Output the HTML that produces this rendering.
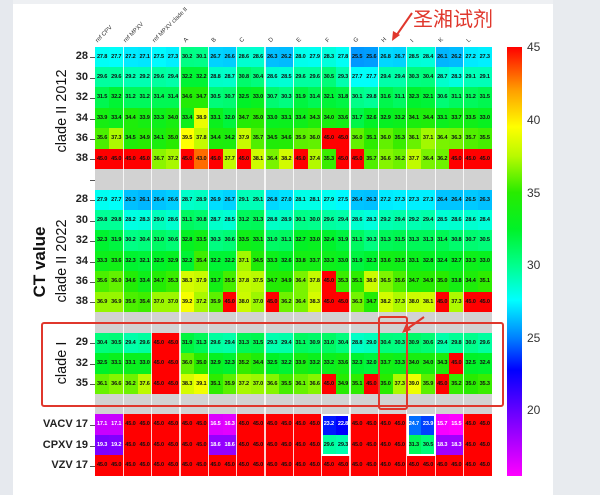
<!DOCTYPE html>
<html><head><meta charset="utf-8">
<style>
*{margin:0;padding:0;box-sizing:border-box}
body{width:600px;height:495px;overflow:hidden;background:#fff;font-family:"Liberation Sans","Noto Sans CJK SC",sans-serif;position:relative}
#ls{position:absolute;left:0;top:0;width:13px;height:495px;background:#e6e9ee}
#rs{position:absolute;left:553px;top:0;width:47px;height:495px;background:#e8ebef}
#tb{position:absolute;left:13px;top:0;width:540px;height:4px;background:#eef0f3}
#grid{position:absolute;left:95px;top:46.5px;width:397px}
.r{height:20.45px;display:flex}
.r i{font-style:normal;width:14.18px;flex:none;height:100%;line-height:20.45px;text-align:center;font-size:5.6px;font-weight:bold;color:#111;letter-spacing:-0.15px}
.g{height:20.45px;background:#d2d2d2}
.sep{position:absolute;top:46.5px;height:429.5px;width:1.4px;background:rgba(255,255,255,.8)}
.yl{position:absolute;width:40px;text-align:right;font-size:11px;font-weight:bold;color:#222;left:48px}
.tk{position:absolute;left:90px;width:5px;height:1px;background:#555}
.cl{position:absolute;font-size:6px;color:#333;transform-origin:0 100%;transform:rotate(-45deg);white-space:nowrap;line-height:6px}
.ax{position:absolute;transform:translate(-50%,-50%) rotate(-90deg);white-space:nowrap;color:#111}
#cb{position:absolute;left:507px;top:46.5px;width:15px;height:429.5px}
.cbl{position:absolute;left:527px;font-size:12px;color:#333}
.wb{position:absolute;border:2px solid #fff;top:414px;height:41.5px;width:29px}
.rb{position:absolute;border:2px solid #e0372c;border-radius:3px}
</style></head><body>
<div id="ls"></div><div id="rs"></div><div id="tb"></div>

<div class="cl" style="left:99px;top:38px">ref CPV</div>
<div class="cl" style="left:127px;top:38px">ref MPXV</div>
<div class="cl" style="left:156px;top:38px">ref MPXV clade II</div>
<div class="cl" style="left:187px;top:38px">A</div>
<div class="cl" style="left:215px;top:38px">B</div>
<div class="cl" style="left:243px;top:38px">C</div>
<div class="cl" style="left:272px;top:38px">D</div>
<div class="cl" style="left:300px;top:38px">E</div>
<div class="cl" style="left:329px;top:38px">F</div>
<div class="cl" style="left:357px;top:38px">G</div>
<div class="cl" style="left:385px;top:38px">H</div>
<div class="cl" style="left:414px;top:38px">I</div>
<div class="cl" style="left:442px;top:38px">K</div>
<div class="cl" style="left:470px;top:38px">L</div>

<div id="grid">
<div class="r"><i>27.8</i><i>27.7</i><i>27.2</i><i>27.1</i><i>27.5</i><i>27.3</i><i>30.2</i><i>30.1</i><i>26.7</i><i>26.6</i><i>28.6</i><i>28.6</i><i>26.3</i><i>26.2</i><i>28.0</i><i>27.9</i><i>28.3</i><i>27.8</i><i>25.5</i><i>25.6</i><i>26.8</i><i>26.7</i><i>28.5</i><i>28.4</i><i>26.1</i><i>26.2</i><i>27.2</i><i>27.3</i></div>
<div class="r"><i>29.6</i><i>29.6</i><i>29.2</i><i>29.2</i><i>29.6</i><i>29.4</i><i>32.2</i><i>32.2</i><i>28.8</i><i>28.7</i><i>30.8</i><i>30.4</i><i>28.6</i><i>28.5</i><i>29.6</i><i>29.6</i><i>30.5</i><i>29.3</i><i>27.7</i><i>27.7</i><i>29.4</i><i>29.4</i><i>30.3</i><i>30.4</i><i>28.7</i><i>28.3</i><i>29.1</i><i>29.1</i></div>
<div class="r"><i>31.5</i><i>32.2</i><i>31.2</i><i>31.2</i><i>31.4</i><i>31.4</i><i>34.6</i><i>34.7</i><i>30.5</i><i>30.7</i><i>32.5</i><i>33.0</i><i>30.7</i><i>30.3</i><i>31.9</i><i>31.4</i><i>32.1</i><i>31.8</i><i>30.1</i><i>29.8</i><i>31.6</i><i>31.1</i><i>32.3</i><i>32.1</i><i>30.6</i><i>31.1</i><i>31.2</i><i>31.5</i></div>
<div class="r"><i>33.9</i><i>33.4</i><i>34.4</i><i>33.9</i><i>33.3</i><i>34.0</i><i>33.4</i><i>38.9</i><i>33.1</i><i>32.0</i><i>34.7</i><i>35.0</i><i>33.0</i><i>33.1</i><i>33.4</i><i>34.3</i><i>34.0</i><i>33.6</i><i>31.7</i><i>32.6</i><i>32.9</i><i>33.2</i><i>34.1</i><i>34.4</i><i>33.1</i><i>33.7</i><i>33.5</i><i>33.0</i></div>
<div class="r"><i>35.6</i><i>37.3</i><i>34.5</i><i>34.9</i><i>34.1</i><i>35.0</i><i>39.5</i><i>37.8</i><i>34.4</i><i>34.2</i><i>37.9</i><i>35.7</i><i>34.5</i><i>34.6</i><i>35.9</i><i>36.0</i><i>45.0</i><i>45.0</i><i>36.0</i><i>35.1</i><i>36.0</i><i>35.3</i><i>36.1</i><i>37.1</i><i>36.4</i><i>36.3</i><i>35.7</i><i>35.5</i></div>
<div class="r"><i>45.0</i><i>45.0</i><i>45.0</i><i>45.0</i><i>36.7</i><i>37.2</i><i>45.0</i><i>43.0</i><i>45.0</i><i>37.7</i><i>45.0</i><i>38.1</i><i>36.4</i><i>38.2</i><i>45.0</i><i>37.4</i><i>35.3</i><i>45.0</i><i>45.0</i><i>35.7</i><i>36.6</i><i>36.2</i><i>37.7</i><i>36.4</i><i>36.2</i><i>45.0</i><i>45.0</i><i>45.0</i></div>
<div class="g"></div>
<div class="r"><i>27.9</i><i>27.7</i><i>26.3</i><i>26.1</i><i>26.4</i><i>26.6</i><i>28.7</i><i>28.9</i><i>26.9</i><i>26.7</i><i>29.1</i><i>29.1</i><i>26.8</i><i>27.0</i><i>28.1</i><i>28.1</i><i>27.9</i><i>27.5</i><i>26.4</i><i>26.3</i><i>27.2</i><i>27.3</i><i>27.3</i><i>27.3</i><i>26.4</i><i>26.4</i><i>26.5</i><i>26.3</i></div>
<div class="r"><i>29.8</i><i>29.8</i><i>28.2</i><i>28.3</i><i>29.0</i><i>28.6</i><i>31.1</i><i>30.8</i><i>28.7</i><i>28.5</i><i>31.2</i><i>31.3</i><i>28.8</i><i>28.9</i><i>30.1</i><i>30.0</i><i>29.6</i><i>29.4</i><i>28.6</i><i>28.3</i><i>29.2</i><i>29.4</i><i>29.2</i><i>29.4</i><i>28.5</i><i>28.6</i><i>28.6</i><i>28.4</i></div>
<div class="r"><i>32.3</i><i>31.9</i><i>30.2</i><i>30.4</i><i>31.0</i><i>30.6</i><i>32.8</i><i>33.5</i><i>30.3</i><i>30.6</i><i>33.5</i><i>33.1</i><i>31.0</i><i>31.1</i><i>32.7</i><i>33.0</i><i>32.4</i><i>31.9</i><i>31.1</i><i>30.3</i><i>31.3</i><i>31.5</i><i>31.3</i><i>31.3</i><i>31.4</i><i>30.8</i><i>30.7</i><i>30.5</i></div>
<div class="r"><i>33.3</i><i>33.6</i><i>32.3</i><i>32.1</i><i>32.5</i><i>32.9</i><i>32.2</i><i>35.4</i><i>32.2</i><i>32.2</i><i>37.1</i><i>34.5</i><i>33.3</i><i>32.6</i><i>33.8</i><i>33.7</i><i>33.3</i><i>33.0</i><i>31.9</i><i>32.3</i><i>33.6</i><i>33.5</i><i>33.1</i><i>32.8</i><i>32.4</i><i>32.7</i><i>33.3</i><i>33.0</i></div>
<div class="r"><i>35.6</i><i>36.0</i><i>34.6</i><i>33.4</i><i>34.7</i><i>35.3</i><i>38.3</i><i>37.9</i><i>33.7</i><i>35.5</i><i>37.8</i><i>37.5</i><i>34.7</i><i>34.9</i><i>36.4</i><i>37.8</i><i>45.0</i><i>35.3</i><i>35.1</i><i>38.0</i><i>36.5</i><i>35.6</i><i>34.7</i><i>34.9</i><i>35.0</i><i>33.8</i><i>34.4</i><i>35.1</i></div>
<div class="r"><i>36.9</i><i>36.9</i><i>35.6</i><i>35.4</i><i>37.0</i><i>37.0</i><i>39.2</i><i>37.2</i><i>35.9</i><i>45.0</i><i>38.0</i><i>37.0</i><i>45.0</i><i>36.2</i><i>36.4</i><i>38.3</i><i>45.0</i><i>45.0</i><i>36.3</i><i>34.7</i><i>38.2</i><i>37.3</i><i>38.0</i><i>38.1</i><i>45.0</i><i>37.3</i><i>45.0</i><i>45.0</i></div>
<div class="g"></div>
<div class="r"><i>30.4</i><i>30.5</i><i>29.4</i><i>29.6</i><i>45.0</i><i>45.0</i><i>31.9</i><i>31.3</i><i>29.6</i><i>29.4</i><i>31.3</i><i>31.5</i><i>29.3</i><i>29.4</i><i>31.1</i><i>30.9</i><i>31.0</i><i>30.4</i><i>28.8</i><i>29.0</i><i>30.4</i><i>30.3</i><i>30.9</i><i>30.6</i><i>29.4</i><i>29.8</i><i>30.0</i><i>29.6</i></div>
<div class="r"><i>32.5</i><i>33.1</i><i>33.1</i><i>33.0</i><i>45.0</i><i>45.0</i><i>36.0</i><i>35.0</i><i>32.9</i><i>32.3</i><i>35.2</i><i>34.4</i><i>32.5</i><i>32.2</i><i>33.9</i><i>33.2</i><i>33.2</i><i>33.6</i><i>32.3</i><i>32.0</i><i>33.7</i><i>33.3</i><i>34.0</i><i>34.0</i><i>34.3</i><i>45.0</i><i>32.5</i><i>32.4</i></div>
<div class="r"><i>36.1</i><i>36.6</i><i>36.2</i><i>37.6</i><i>45.0</i><i>45.0</i><i>38.3</i><i>39.1</i><i>35.1</i><i>35.9</i><i>37.2</i><i>37.0</i><i>36.6</i><i>35.5</i><i>36.1</i><i>36.6</i><i>45.0</i><i>34.9</i><i>35.1</i><i>45.0</i><i>35.0</i><i>37.3</i><i>39.0</i><i>35.9</i><i>45.0</i><i>35.2</i><i>35.0</i><i>35.3</i></div>
<div class="g"></div>
<div class="r"><i>17.1</i><i>17.1</i><i>45.0</i><i>45.0</i><i>45.0</i><i>45.0</i><i>45.0</i><i>45.0</i><i>16.5</i><i>16.3</i><i>45.0</i><i>45.0</i><i>45.0</i><i>45.0</i><i>45.0</i><i>45.0</i><i>23.2</i><i>22.8</i><i>45.0</i><i>45.0</i><i>45.0</i><i>45.0</i><i>24.7</i><i>23.9</i><i>15.7</i><i>15.5</i><i>45.0</i><i>45.0</i></div>
<div class="r"><i>19.3</i><i>19.2</i><i>45.0</i><i>45.0</i><i>45.0</i><i>45.0</i><i>45.0</i><i>45.0</i><i>18.6</i><i>18.6</i><i>45.0</i><i>45.0</i><i>45.0</i><i>45.0</i><i>45.0</i><i>45.0</i><i>29.6</i><i>29.3</i><i>45.0</i><i>45.0</i><i>45.0</i><i>45.0</i><i>31.3</i><i>30.5</i><i>18.3</i><i>18.3</i><i>45.0</i><i>45.0</i></div>
<div class="r"><i>45.0</i><i>45.0</i><i>45.0</i><i>45.0</i><i>45.0</i><i>45.0</i><i>45.0</i><i>45.0</i><i>45.0</i><i>45.0</i><i>45.0</i><i>45.0</i><i>45.0</i><i>45.0</i><i>45.0</i><i>45.0</i><i>45.0</i><i>45.0</i><i>45.0</i><i>45.0</i><i>45.0</i><i>45.0</i><i>45.0</i><i>45.0</i><i>45.0</i><i>45.0</i><i>45.0</i><i>45.0</i></div>
</div>

<div class="sep" style="left:122.7px"></div><div class="sep" style="left:151px"></div><div class="sep" style="left:179.4px"></div><div class="sep" style="left:207.7px"></div><div class="sep" style="left:236px"></div><div class="sep" style="left:264.4px"></div><div class="sep" style="left:292.7px"></div><div class="sep" style="left:321.1px"></div><div class="sep" style="left:349.4px"></div><div class="sep" style="left:377.8px"></div><div class="sep" style="left:406.1px"></div><div class="sep" style="left:434.5px"></div><div class="sep" style="left:462.8px"></div>

<div class="wb" style="left:321px"></div>
<div class="wb" style="left:406.5px"></div>

<div class="yl" style="top:50px">28</div><div class="yl" style="top:70.5px">30</div><div class="yl" style="top:91px">32</div><div class="yl" style="top:111.5px">34</div><div class="yl" style="top:132px">36</div><div class="yl" style="top:152px">38</div>
<div class="yl" style="top:193px">28</div><div class="yl" style="top:213.5px">30</div><div class="yl" style="top:234px">32</div><div class="yl" style="top:254.5px">34</div><div class="yl" style="top:275px">36</div><div class="yl" style="top:295px">38</div>
<div class="yl" style="top:336px">29</div><div class="yl" style="top:356.5px">32</div><div class="yl" style="top:377px">35</div>
<div class="yl" style="top:418px;left:8px;width:80px">VACV 17</div><div class="yl" style="top:438.5px;left:8px;width:80px">CPXV 19</div><div class="yl" style="top:459px;left:8px;width:80px">VZV 17</div>
<div class="tk" style="top:57px"></div><div class="tk" style="top:77.5px"></div><div class="tk" style="top:98px"></div><div class="tk" style="top:118.5px"></div><div class="tk" style="top:139px"></div><div class="tk" style="top:159px"></div><div class="tk" style="top:180px"></div>
<div class="tk" style="top:200px"></div><div class="tk" style="top:220.5px"></div><div class="tk" style="top:241px"></div><div class="tk" style="top:261.5px"></div><div class="tk" style="top:282px"></div><div class="tk" style="top:302px"></div>
<div class="tk" style="top:343px"></div><div class="tk" style="top:363.5px"></div><div class="tk" style="top:384px"></div>
<div class="tk" style="top:425px"></div><div class="tk" style="top:445.5px"></div><div class="tk" style="top:466px"></div>

<div class="ax" style="left:62px;top:111px;font-size:14.5px">clade II 2012</div>
<div class="ax" style="left:62px;top:261px;font-size:14.5px">clade II 2022</div>
<div class="ax" style="left:40px;top:262px;font-size:17px;font-weight:bold">CT value</div>
<div class="ax" style="left:62px;top:363px;font-size:14.5px">clade I</div>

<div id="cb"></div>
<div class="cbl" style="top:40px">45</div>
<div class="cbl" style="top:113px">40</div>
<div class="cbl" style="top:186px">35</div>
<div class="cbl" style="top:258px">30</div>
<div class="cbl" style="top:331px">25</div>
<div class="cbl" style="top:403px">20</div>

<div class="rb" style="left:40.5px;top:321.5px;width:463px;height:85px"></div>
<div class="rb" style="left:378px;top:316px;width:30px;height:94px"></div>

<svg style="position:absolute;left:0;top:0" width="600" height="495">
<g stroke="#e0372c" stroke-width="2" fill="#e0372c">
<line x1="412" y1="13" x2="396" y2="36"/>
<polygon points="392,41 393,31 400,35" stroke="none"/>
<line x1="424" y1="317" x2="407" y2="329"/>
<polygon points="402,333 406,324 411,330" stroke="none"/>
</g>
</svg>
<div style="position:absolute;left:413px;top:3px;font-size:20px;color:#e0372c;font-family:'Noto Sans CJK SC','WenQuanYi Zen Hei',sans-serif">圣湘试剂</div>

<script>
var S=[[15.5,[255,0,255]],[20,[100,0,255]],[22.8,[0,0,255]],[25,[0,128,255]],[27.6,[0,255,255]],[30,[0,255,140]],[32.5,[0,242,40]],[35,[40,235,0]],[37.5,[185,250,0]],[39.5,[255,255,0]],[42,[255,160,0]],[45,[255,0,0]]];
function col(v){if(v<=S[0][0])return S[0][1];for(var i=1;i<S.length;i++){if(v<=S[i][0]){var a=S[i-1],b=S[i],t=(v-a[0])/(b[0]-a[0]);return [0,1,2].map(function(k){return Math.round(a[1][k]+(b[1][k]-a[1][k])*t)})}}return S[S.length-1][1];}
document.querySelectorAll('#grid i').forEach(function(e){var v=parseFloat(e.textContent),c=col(v);e.style.background='rgb('+c.join(',')+')';if(v<25)e.style.color='#fff';});
var g=[];for(var i=S.length-1;i>=0;i--){var p=(45-S[i][0])/(45-15.5)*100;g.push('rgb('+S[i][1].join(',')+') '+p.toFixed(1)+'%');}
document.getElementById('cb').style.background='linear-gradient(to bottom,'+g.join(',')+')';
</script>
</body></html>
